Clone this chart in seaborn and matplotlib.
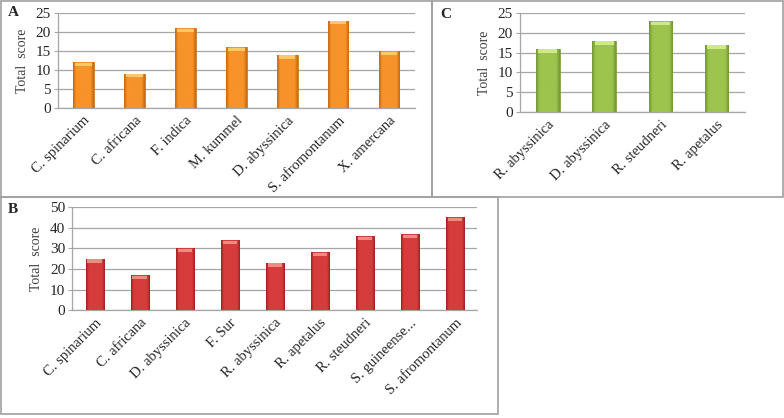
import numpy as np
import pandas as pd
import matplotlib
matplotlib.use("Agg")
import matplotlib.pyplot as plt
import seaborn as sns
from matplotlib.colors import LinearSegmentedColormap
from matplotlib.patches import Rectangle

# data
a_species = ["C. spinarium", "C. africana", "F. indica", "M. kummel",
             "D. abyssinica", "S. afromontanum", "X. amercana"]
a_scores = [12, 9, 21, 16, 14, 23, 15]

c_species = ["R. abyssinica", "D. abyssinica", "R. steudneri", "R. apetalus"]
c_scores = [16, 18, 23, 17]

b_species = ["C. spinarium", "C. africana", "D. abyssinica", "F. Sur",
             "R. abyssinica", "R. apetalus", "R. steudneri",
             "S. guineense...", "S. afromontanum"]
b_scores = [25, 17, 30, 34, 23, 28, 36, 37, 45]

sns.set_style("white")
plt.rcParams["font.family"] = ["Liberation Serif", "DejaVu Serif"]

fig = plt.figure(figsize=(7.84, 4.18), dpi=100)

# panel frames (gray boxes)
for x0, y0, x1, y1 in [(1, 1, 432, 197), (432, 1, 783, 197), (1, 197, 498, 414)]:
    fig.patches.append(Rectangle((x0 / 784, 1 - y1 / 418), (x1 - x0) / 784, (y1 - y0) / 418,
                                 transform=fig.transFigure, fill=False,
                                 edgecolor="#a0a0a0", linewidth=1.2))


def panel(rect, names, vals, ymax, step, width, c_edge, c_mid, c_light, letter, lpos):
    ax = fig.add_axes(rect)
    df = pd.DataFrame({"species": names, "score": vals})
    sns.barplot(data=df, x="species", y="score", color=c_mid, width=width,
                ax=ax, zorder=3, edgecolor=c_edge, linewidth=0.5)
    # flat face with darker bevelled sides
    cmap = LinearSegmentedColormap.from_list(
        "g", [(0, c_edge), (0.15, c_mid), (0.85, c_mid), (1, c_edge)])
    grad = np.linspace(0, 1, 64).reshape(1, -1)
    cap = ymax * 0.04
    for p in ax.patches:
        x, y = p.get_x(), p.get_y()
        w, h = p.get_width(), p.get_height()
        im = ax.imshow(grad, cmap=cmap, aspect="auto", extent=(x, x + w, y, y + h),
                       zorder=3.5)
        im.set_clip_path(p)
        # light cap at top of the bar
        ax.add_patch(Rectangle((x + w * 0.1, y + h - cap), w * 0.8, cap * 0.8,
                               color=c_light, zorder=4, linewidth=0))
    ax.set_xlim(-0.5, len(names) - 0.5)
    ax.set_ylim(0, ymax)
    ax.set_yticks(np.arange(0, ymax + 1, step))
    ax.yaxis.grid(True, color="#a6a6a6", linewidth=0.9, zorder=0)
    ax.set_axisbelow(True)
    for s in ["top", "right"]:
        ax.spines[s].set_visible(False)
    for s in ["left", "bottom"]:
        ax.spines[s].set_color("#a6a6a6")
        ax.spines[s].set_linewidth(0.9)
    ax.tick_params(axis="y", left=True, length=3, color="#a6a6a6", labelsize=11, pad=2)
    ax.tick_params(axis="x", bottom=False, labelsize=10.5, pad=1)
    ax.set_xticks(range(len(names)))
    ax.set_xticklabels(names, rotation=45, ha="right", rotation_mode="anchor")
    ax.set_xlabel("")
    ax.set_ylabel("Total  score", fontsize=10, color="#404040", labelpad=5)
    fig.text(lpos[0] / 784, 1 - lpos[1] / 418, letter, fontsize=11, fontweight="bold",
             ha="left", va="center")
    return ax


panel([0.074, 0.742, 0.455, 0.227], a_species, a_scores, 25, 5, 0.4,
      "#c9680f", "#f6932a", "#fdc866", "A", (8, 12))
panel([0.663, 0.732, 0.287, 0.237], c_species, c_scores, 25, 5, 0.42,
      "#729834", "#9dc44d", "#cfe88a", "C", (440, 15))
panel([0.092, 0.258, 0.517, 0.247], b_species, b_scores, 50, 10, 0.4,
      "#a32222", "#d63c3c", "#ef8a82", "B", (8, 210))

fig.savefig("out.png", dpi=100)
